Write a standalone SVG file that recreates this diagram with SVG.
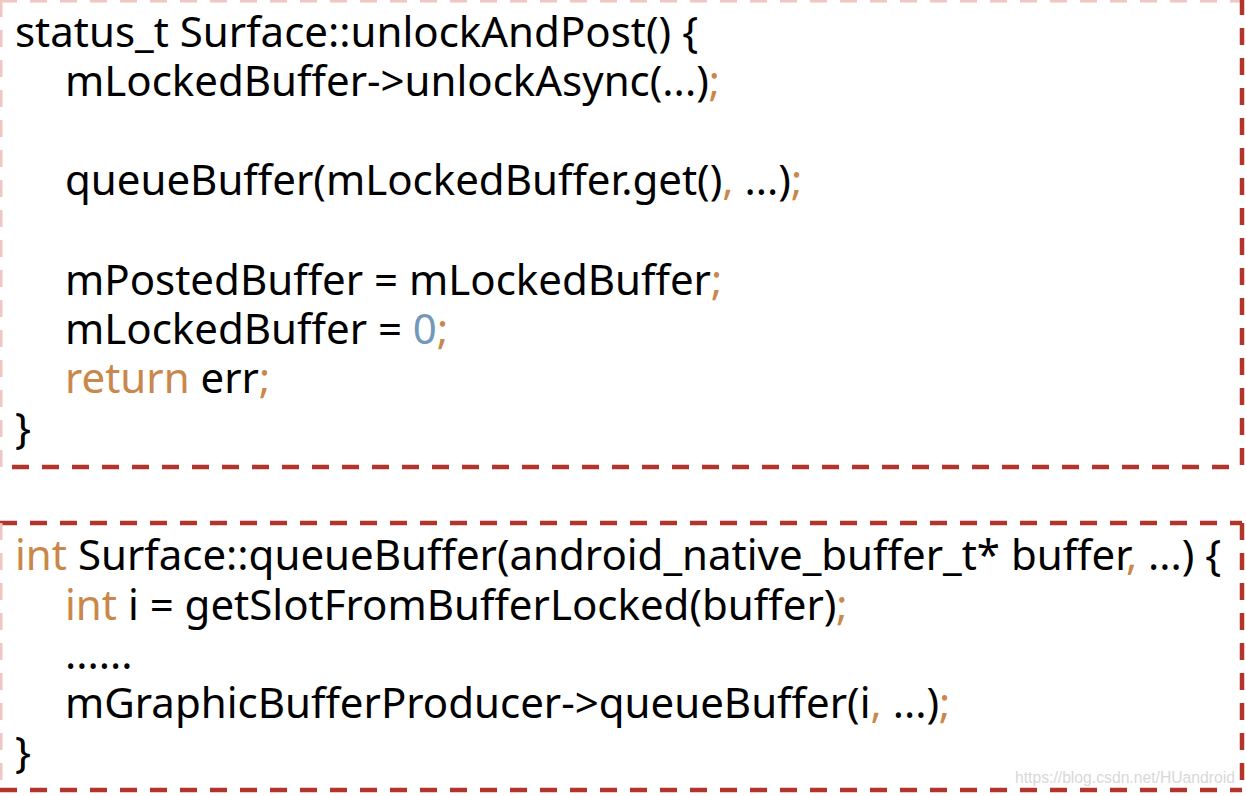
<svg xmlns="http://www.w3.org/2000/svg" width="1246" height="796" viewBox="0 0 1246 796">
<style>
.edge{stroke:#b3342a;stroke-width:4.5;stroke-dasharray:17 13;fill:none}
.faint{stroke:#efc6c1;stroke-width:3;stroke-dasharray:17 13;fill:none}
.code{font-family:"Noto Sans","Open Sans","DejaVu Sans",sans-serif;font-size:42px;fill:#000}
.k{fill:#c9874b}
.n{fill:#7398bd}
.wm{font-family:"Liberation Sans",Arial,sans-serif;font-size:16px;fill:#d8d8d8}
</style>
<rect width="1246" height="796" fill="#fff"/>
<g id="box1">
<line class="faint" x1="0" y1="1" x2="1242" y2="1"/>
<line class="faint" x1="1" y1="0" x2="1" y2="467"/>
<line class="edge" x1="1242" y1="-2" x2="1242" y2="467"/>
<line class="edge" x1="12" y1="467" x2="1242" y2="467"/>
</g>
<g id="box2">
<line class="edge" x1="0" y1="523" x2="1242" y2="523"/>
<line class="faint" x1="1" y1="523" x2="1" y2="790"/>
<line class="edge" x1="1242" y1="523" x2="1242" y2="790"/>
<line class="edge" x1="0" y1="790" x2="1242" y2="790"/>
</g>
<g id="code1">
<text class="code" x="15" y="47">status_t Surface::unlockAndPost() {</text>
<text class="code" x="65" y="96">mLockedBuffer-&gt;unlockAsync(...)<tspan class="k">;</tspan></text>
<text class="code" x="65" y="195">queueBuffer(mLockedBuffer.get()<tspan class="k">,</tspan> ...)<tspan class="k">;</tspan></text>
<text class="code" x="65" y="295">mPostedBuffer = mLockedBuffer<tspan class="k">;</tspan></text>
<text class="code" x="65" y="344">mLockedBuffer = <tspan class="n">0</tspan><tspan class="k">;</tspan></text>
<text class="code" x="65" y="393"><tspan class="k">return</tspan> err<tspan class="k">;</tspan></text>
<text class="code" x="15" y="443">}</text>
</g>
<g id="code2">
<text class="code" x="15" y="570"><tspan class="k">int</tspan> Surface::queueBuffer(android_native_buffer_t* buffer<tspan class="k">,</tspan> ...) {</text>
<text class="code" x="65" y="620"><tspan class="k">int</tspan> i = getSlotFromBufferLocked(buffer)<tspan class="k">;</tspan></text>
<text class="code" x="65" y="669">......</text>
<text class="code" x="65" y="718">mGraphicBufferProducer-&gt;queueBuffer(i<tspan class="k">,</tspan> ...)<tspan class="k">;</tspan></text>
<text class="code" x="15" y="767">}</text>
</g>
<text class="wm" x="1015" y="783" textLength="220" lengthAdjust="spacingAndGlyphs">https://blog.csdn.net/HUandroid</text>
</svg>
